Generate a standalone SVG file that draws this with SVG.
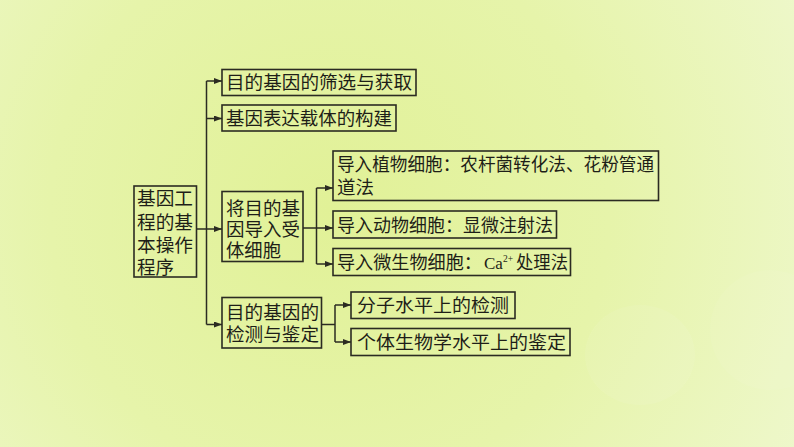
<svg xmlns="http://www.w3.org/2000/svg" width="794" height="447" viewBox="0 0 794 447">
<defs>
<radialGradient id="bg" cx="330" cy="210" r="560" gradientUnits="userSpaceOnUse">
<stop offset="0" stop-color="#e1f197"/>
<stop offset="0.5" stop-color="#e6f4aa"/>
<stop offset="1" stop-color="#eff8cf"/>
</radialGradient>
<marker id="arr" viewBox="0 0 8 6" refX="8" refY="3" markerWidth="8" markerHeight="6" markerUnits="userSpaceOnUse" orient="auto">
<path d="M0,0 L8,3 L0,6 Z" fill="#2b2b22"/>
</marker>
<style>
.box{fill:none;stroke:#2b2b22;stroke-width:1.6}
.t{font-family:"Liberation Serif","Noto Sans CJK SC",serif;font-size:18.5px;fill:#1e1e18}
.c{fill:none;stroke:#2b2b22;stroke-width:1.5}
</style>
</defs>
<rect x="0" y="0" width="794" height="447" fill="url(#bg)"/>
<ellipse cx="640" cy="355" rx="55" ry="50" fill="#ffffff" opacity="0.07"/>
<ellipse cx="770" cy="330" rx="60" ry="60" fill="#ffffff" opacity="0.05"/>

<g id="connectors">
<path class="c" d="M206.5,81 V324.5"/>
<path class="c" d="M206.5,81 H222" marker-end="url(#arr)"/>
<path class="c" d="M206.5,118.5 H222" marker-end="url(#arr)"/>
<path class="c" d="M196,229 H222" marker-end="url(#arr)"/>
<path class="c" d="M206.5,324.5 H222" marker-end="url(#arr)"/>
<path class="c" d="M303,228 H316.5"/>
<path class="c" d="M316.5,188 V264"/>
<path class="c" d="M316.5,188 H333" marker-end="url(#arr)"/>
<path class="c" d="M316.5,228 H333" marker-end="url(#arr)"/>
<path class="c" d="M316.5,264 H333" marker-end="url(#arr)"/>
<path class="c" d="M322,324.5 H335"/>
<path class="c" d="M335,305 V342"/>
<path class="c" d="M335,305 H351" marker-end="url(#arr)"/>
<path class="c" d="M335,342 H351" marker-end="url(#arr)"/>
</g>

<g id="root">
<rect class="box" x="134" y="186" width="62.5" height="91"/>
<text class="t" x="137" y="205" textLength="56" lengthAdjust="spacingAndGlyphs">基因工</text>
<text class="t" x="137" y="229" textLength="56" lengthAdjust="spacingAndGlyphs">程的基</text>
<text class="t" x="137" y="252" textLength="56" lengthAdjust="spacingAndGlyphs">本操作</text>
<text class="t" x="137" y="274" textLength="37" lengthAdjust="spacingAndGlyphs">程序</text>
</g>

<g id="n1">
<rect class="box" x="222" y="69.5" width="194" height="26"/>
<text class="t" x="226" y="89" textLength="186" lengthAdjust="spacingAndGlyphs">目的基因的筛选与获取</text>
</g>

<g id="n2">
<rect class="box" x="222" y="105" width="174" height="26"/>
<text class="t" x="226" y="125" textLength="166" lengthAdjust="spacingAndGlyphs">基因表达载体的构建</text>
</g>

<g id="n3">
<rect class="box" x="222" y="191.5" width="81" height="70"/>
<text class="t" x="226" y="214.5" textLength="74" lengthAdjust="spacingAndGlyphs">将目的基</text>
<text class="t" x="226" y="235.5" textLength="74" lengthAdjust="spacingAndGlyphs">因导入受</text>
<text class="t" x="226" y="257" textLength="55" lengthAdjust="spacingAndGlyphs">体细胞</text>
</g>

<g id="n4">
<rect class="box" x="222" y="297.5" width="99.5" height="50.5"/>
<text class="t" x="226" y="319" textLength="93" lengthAdjust="spacingAndGlyphs">目的基因的</text>
<text class="t" x="226" y="341" textLength="93" lengthAdjust="spacingAndGlyphs">检测与鉴定</text>
</g>

<g id="n5">
<rect class="box" x="333" y="151" width="325.5" height="49.5"/>
<text class="t" x="337" y="171" textLength="317" lengthAdjust="spacingAndGlyphs">导入植物细胞：农杆菌转化法、花粉管通</text>
<text class="t" x="337" y="194" textLength="37" lengthAdjust="spacingAndGlyphs">道法</text>
</g>

<g id="n6">
<rect class="box" x="333" y="211" width="223.5" height="27"/>
<text class="t" x="337" y="231.5" textLength="216" lengthAdjust="spacingAndGlyphs">导入动物细胞：显微注射法</text>
</g>

<g id="n7">
<rect class="box" x="333" y="248.5" width="237.5" height="27"/>
<text class="t" x="337" y="269" textLength="145" lengthAdjust="spacingAndGlyphs">导入微生物细胞：</text>
<text class="t" x="484" y="269" style="font-size:17px">Ca</text>
<text class="t" x="503" y="262" style="font-size:9.5px">2+</text>
<text class="t" x="516" y="269" textLength="52" lengthAdjust="spacingAndGlyphs">处理法</text>
</g>

<g id="n8">
<rect class="box" x="351" y="292" width="164" height="26.5"/>
<text class="t" x="357" y="312" textLength="152" lengthAdjust="spacingAndGlyphs">分子水平上的检测</text>
</g>

<g id="n9">
<rect class="box" x="351" y="328.5" width="219" height="27"/>
<text class="t" x="357" y="349" textLength="209" lengthAdjust="spacingAndGlyphs">个体生物学水平上的鉴定</text>
</g>
</svg>
